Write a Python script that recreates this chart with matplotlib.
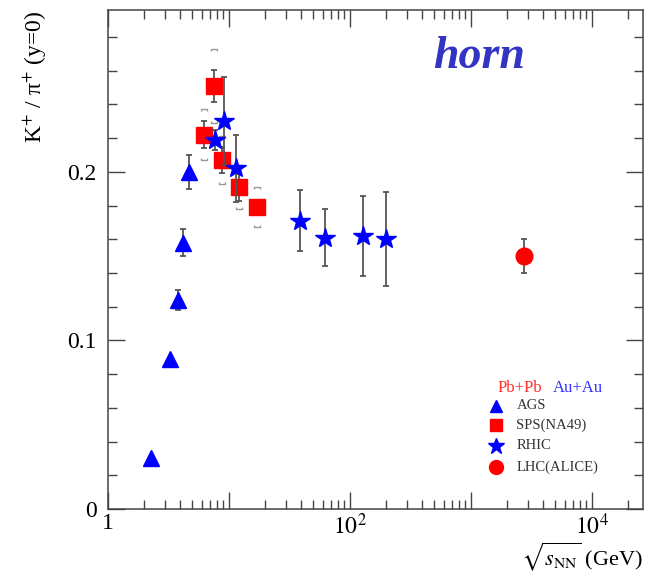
import numpy as np
import matplotlib
matplotlib.use("Agg")
import matplotlib.pyplot as plt
from matplotlib.ticker import FixedLocator, FixedFormatter, MultipleLocator

plt.rcParams['font.family'] = ['Liberation Serif', 'DejaVu Serif']
plt.rcParams['mathtext.fontset'] = 'stix'

# AGS (Au+Au)
ags_x = [2.3, 3.25, 3.8, 4.2, 4.75]
ags_y = [0.030, 0.089, 0.124, 0.158, 0.200]
ags_err = [0.0, 0.0, 0.006, 0.008, 0.010]

# SPS NA49 (Pb+Pb)
sps_x = [6.3, 7.6, 8.8, 12.3, 17.3]
sps_y = [0.222, 0.251, 0.207, 0.191, 0.179]
sps_err = [0.008, 0.0095, 0.0077, 0.008, 0.004]
sps_sys = [0.015, 0.022, 0.014, 0.013, 0.012]

# RHIC (Au+Au)
rhic_x = [7.7, 9.2, 11.5, 39.0, 62.4, 130.0, 200.0]
rhic_y = [0.219, 0.230, 0.202, 0.171, 0.161, 0.162, 0.160]
rhic_err = [0.006, 0.026, 0.020, 0.018, 0.017, 0.0235, 0.028]

# LHC ALICE (Pb+Pb)
lhc_x = [2760.0]
lhc_y = [0.150]
lhc_err = [0.010]

x_major = [1, 10, 100, 1000, 10000]
x_major_labels = ['1', '', '$10^{2}$', '', '$10^{4}$']
y_major = [0.0, 0.1, 0.2]
y_major_labels = ['0', '0.1', '0.2']

legend_labels = ['AGS', 'SPS(NA49)', 'RHIC', 'LHC(ALICE)']

BLUE = '#0000ff'
RED = '#ff0000'
ERRC = '#555555'
SYSC = '#999999'

fig = plt.figure(figsize=(6.49, 5.79), dpi=100)
ax = fig.add_axes([0.1658, 0.1209, 0.8250, 0.8618])

ax.set_xscale('log')
ax.set_xlim(1, 2.66e4)
ax.set_ylim(0, 0.296)

# systematic brackets for NA49
up_br = [(-1, -0.7), (-1, 0), (1, 0), (1, -0.7)]
lo_br = [(-1, 0.7), (-1, 0), (1, 0), (1, 0.7)]
sx = np.array(sps_x)
sy = np.array(sps_y)
ss = np.array(sps_sys)
ax.plot(sx, sy + ss, ls='none', marker=up_br, ms=5, mfc='none', mec=SYSC, mew=1.0, zorder=2)
ax.plot(sx, sy - ss, ls='none', marker=lo_br, ms=5, mfc='none', mec=SYSC, mew=1.0, zorder=2)

eb = dict(ls='none', ecolor=ERRC, elinewidth=1.3, capsize=2.0, capthick=1.3)
ax.errorbar(ags_x, ags_y, yerr=ags_err, marker='^', ms=11, color=BLUE, zorder=3, **eb)
ax.errorbar(sps_x, sps_y, yerr=sps_err, marker='s', ms=11, color=RED, zorder=3, **eb)
ax.errorbar(rhic_x, rhic_y, yerr=rhic_err, marker='*', ms=15, color=BLUE, zorder=4, **eb)
ax.errorbar(lhc_x, lhc_y, yerr=lhc_err, marker='o', ms=12, color=RED, zorder=3, **eb)

# axes style
for sp in ax.spines.values():
    sp.set_color('#444444')
    sp.set_linewidth(1.1)
ax.xaxis.set_major_locator(FixedLocator(x_major))
ax.xaxis.set_major_formatter(FixedFormatter(x_major_labels))
ax.xaxis.set_minor_locator(FixedLocator([m * d for d in [1, 10, 100, 1000, 10000] for m in range(2, 10)]))
ax.xaxis.set_minor_formatter(FixedFormatter([]))
ax.yaxis.set_major_locator(FixedLocator(y_major))
ax.yaxis.set_major_formatter(FixedFormatter(y_major_labels))
ax.yaxis.set_minor_locator(MultipleLocator(0.02))
ax.tick_params(which='both', direction='in', top=True, right=True, color='#444444', width=1.0)
ax.tick_params(which='major', length=12, labelsize=17)
ax.tick_params(axis='y', which='major', pad=8)
ax.tick_params(axis='x', which='major', pad=3)
ax.tick_params(which='minor', length=6.5)

ax.set_ylabel('K$^{+}$ / π$^{+}$ (y=0)', fontsize=17, loc='top', labelpad=13)
ax.set_xlabel(r'$\sqrt{s_{\rm NN}}$ (GeV)', fontsize=16, loc='right', labelpad=1)

ax.text(0.694, 0.905, 'horn', transform=ax.transAxes, fontsize=33, fontweight='bold',
        fontstyle='italic', color='#3434c4', ha='center', va='center')

# legend drawn by hand
tr = ax.transAxes
ax.text(0.7285, 0.242, 'Pb+Pb', transform=tr, color='#ff3030', fontsize=12, va='center')
ax.text(0.8315, 0.242, 'Au+Au', transform=tr, color='#3030ff', fontsize=12, va='center')
leg_markers = [('^', BLUE, 8.5), ('s', RED, 8), ('*', BLUE, 12), ('o', RED, 10)]
leg_y = [0.2065, 0.1685, 0.1265, 0.0845]
for (mk, c, ms), yy, lab in zip(leg_markers, leg_y, legend_labels):
    ax.plot([0.7255], [yy], transform=tr, marker=mk, ms=ms, color=c, ls='none', clip_on=False)
    ax.text(0.7635, yy, lab, transform=tr, fontsize=10.5, color='#333333', va='center')

fig.savefig('out.png', dpi=100)
